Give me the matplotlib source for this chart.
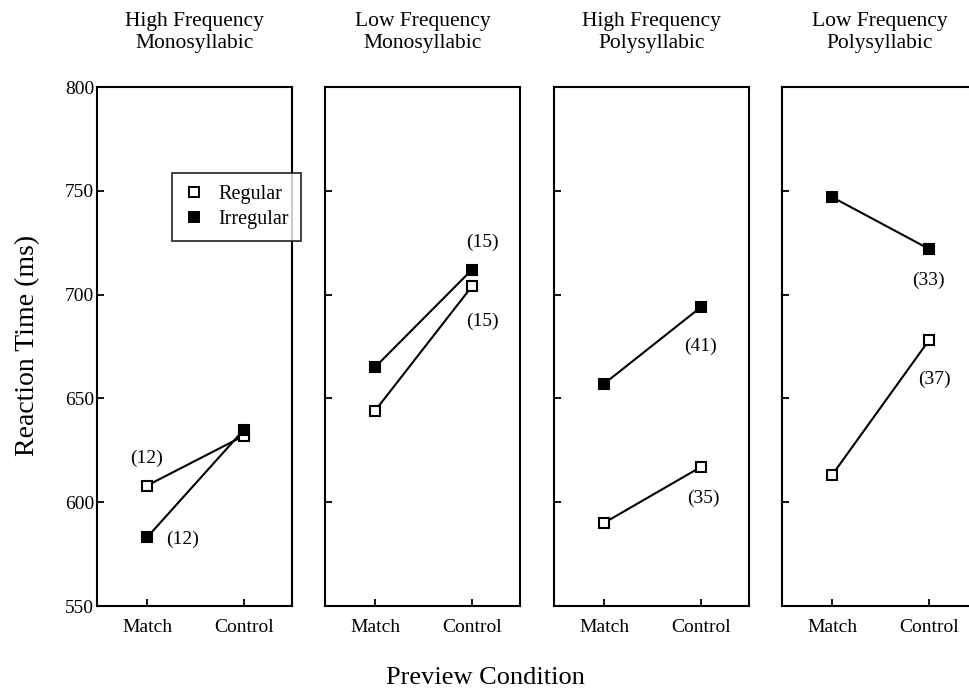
import numpy as np
import matplotlib
matplotlib.use('Agg')
from matplotlib import pyplot as plt
from matplotlib.lines import Line2D

plt.rcParams['font.family'] = ['Liberation Serif', 'DejaVu Serif']

# data
titles = ['High Frequency\nMonosyllabic', 'Low Frequency\nMonosyllabic',
          'High Frequency\nPolysyllabic', 'Low Frequency\nPolysyllabic']
conditions = ['Match', 'Control']
regular = [[608, 632], [644, 704], [590, 617], [613, 678]]
irregular = [[583, 635], [665, 712], [657, 694], [747, 722]]
# error counts shown in brackets: (text, x, y)
counts = [
    [('(12)', 0.0, 621), ('(12)', 0.37, 582)],
    [('(15)', 1.11, 725), ('(15)', 1.11, 687)],
    [('(41)', 1.0, 675), ('(35)', 1.02, 602)],
    [('(33)', 0.99, 707), ('(37)', 1.06, 659)],
]
yticks = [550, 600, 650, 700, 750, 800]

W, H = 970, 694
fig = plt.figure(figsize=(W/100, H/100), dpi=100)
lefts = [97, 325, 554, 782]
pw = 195
top, bot = 87, 606

x = np.arange(len(conditions))
for i in range(4):
    ax = fig.add_axes([lefts[i]/W, 1-bot/H, pw/W, (bot-top)/H])
    ax.plot(x, regular[i], color='black', lw=1.5, marker='s', ms=7.5,
            mfc='white', mec='black', mew=1.5, zorder=3)
    ax.plot(x, irregular[i], color='black', lw=1.5, marker='s', ms=7.5,
            mfc='black', mec='black', mew=1.5, zorder=3)
    for txt, tx, ty in counts[i]:
        ax.text(tx, ty, txt, ha='center', va='center', fontsize=14)
    ax.set_xlim(-0.515, 1.495)
    ax.set_ylim(550, 800)
    ax.set_xticks(x)
    ax.set_xticklabels(conditions, fontsize=14)
    ax.set_yticks(yticks)
    if i == 0:
        ax.set_yticklabels([str(v) for v in yticks], fontsize=14)
    else:
        ax.set_yticklabels([])
    ax.tick_params(direction='in', length=5, width=1.3, pad=9)
    ax.tick_params(axis='y', pad=2)
    for s in ax.spines.values():
        s.set_linewidth(1.5)
    ax.set_title(titles[i], fontsize=15.5, pad=28, linespacing=1.25)

handles = [Line2D([], [], ls='none', marker='s', ms=7, mfc='white', mec='black', mew=1.4),
           Line2D([], [], ls='none', marker='s', ms=7, mfc='black', mec='black', mew=1.4)]
leg = fig.legend(handles, ['Regular', 'Irregular'], loc='upper left',
                 bbox_to_anchor=(172/W, 1-173/H), frameon=True, fancybox=False,
                 edgecolor='black', fontsize=14.5, handlelength=1.0,
                 handletextpad=0.7, borderpad=0.6, labelspacing=0.3,
                 borderaxespad=0)
leg.get_frame().set_linewidth(1.3)
leg.set_zorder(10)

fig.text(485/W, 1-678/H, 'Preview Condition', ha='center', va='center', fontsize=19)
fig.text(28/W, 1-345/H, 'Reaction Time (ms)', ha='center', va='center',
         rotation=90, fontsize=20)

fig.savefig('out.png', dpi=100)
